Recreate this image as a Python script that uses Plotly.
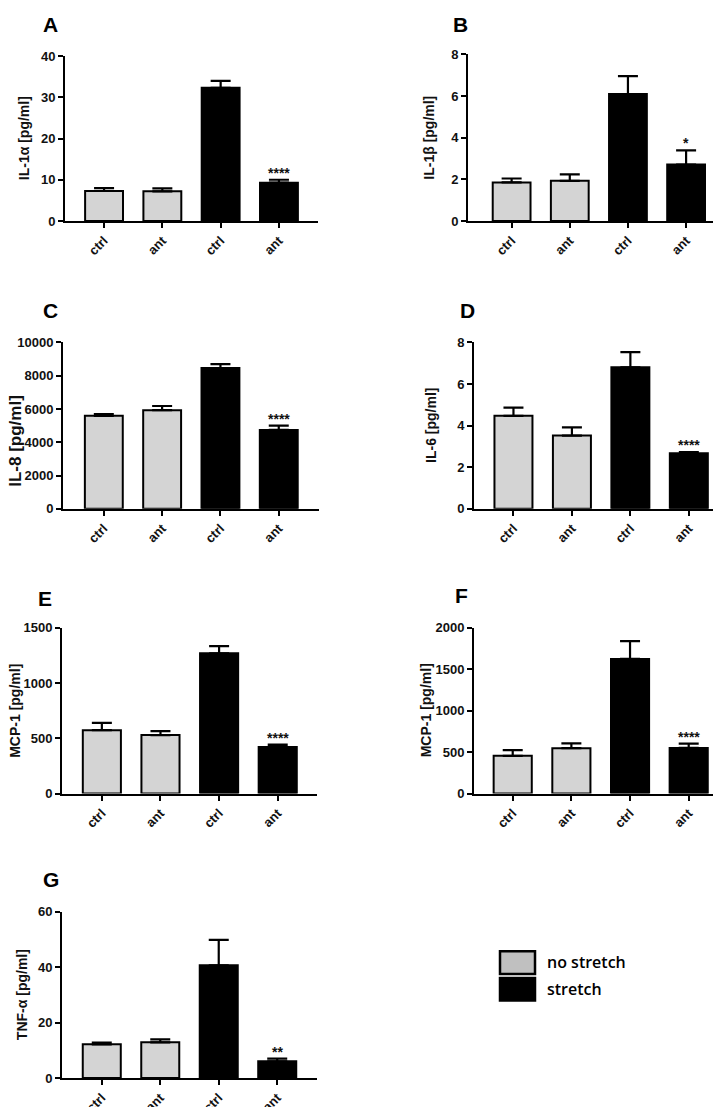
import plotly.graph_objects as go

W, H = 721, 1107

# ---------------- data ----------------
x_pos = [0, 1, 2, 3]
tick_labels = ["ctrl", "ant", "ctrl", "ant"]
bar_colors = ["#d4d4d4", "#d4d4d4", "#000000", "#000000"]

panel_letters = ["A", "B", "C", "D", "E", "F", "G"]
y_titles = ["IL-1α [pg/ml]", "IL-1β [pg/ml]", "IL-8 [pg/ml]", "IL-6 [pg/ml]",
            "MCP-1 [pg/ml]", "MCP-1 [pg/ml]", "TNF-α [pg/ml]"]

il1a_mean = [7.3, 7.2, 32.3, 9.3]
il1a_sem = [0.7, 0.7, 1.7, 0.7]
il1b_mean = [1.85, 1.93, 6.1, 2.71]
il1b_sem = [0.19, 0.31, 0.86, 0.68]
il8_mean = [5590, 5930, 8460, 4740]
il8_sem = [100, 250, 240, 260]
il6_mean = [4.47, 3.52, 6.81, 2.67]
il6_sem = [0.40, 0.40, 0.73, 0.06]
mcp1e_mean = [573, 529, 1268, 422]
mcp1e_sem = [66, 35, 66, 21]
mcp1f_mean = [455, 547, 1624, 550]
mcp1f_sem = [68, 59, 214, 52]
tnfa_mean = [12.2, 12.9, 40.7, 6.05]
tnfa_sem = [0.6, 1.1, 9.2, 0.95]

stars = ["****", "*", "****", "****", "****", "****", "**"]

y_max = [40, 8, 10000, 8, 1500, 2000, 60]
y_step = [10, 2, 2000, 2, 500, 500, 20]

means = [il1a_mean, il1b_mean, il8_mean, il6_mean, mcp1e_mean, mcp1f_mean, tnfa_mean]
sems = [il1a_sem, il1b_sem, il8_sem, il6_sem, mcp1e_sem, mcp1f_sem, tnfa_sem]

legend_labels = ["no stretch", "stretch"]
legend_colors = ["#c0c0c0", "#000000"]

# ---------------- layout (pixel geometry) ----------------
# x0, x1, ytop, ybottom in px, x-range
panels = [
    (57, 310, 41.7, 209, (-0.67, 3.67)),
    (460, 713, 40, 209, (-0.75, 3.60)),
    (55, 311, 332.3, 501, (-0.70, 3.69)),
    (466, 720, 332.3, 501, (-0.675, 3.67)),
    (54, 309, 621.7, 790, (-0.68, 3.67)),
    (466, 720, 621.7, 790, (-0.66, 3.67)),
    (54, 309, 910, 1078.7, (-0.68, 3.68)),
]
letter_pos = [(33, 9.5), (443, 9.5), (33, 300), (450, 299.5), (28, 592.5), (445, 589.5), (33, 877.5)]
ytitle_pos = [(16, 125, 14), (421.5, 125, 14), (8, 432, 17), (423, 417, 14),
              (7, 706, 14), (417.5, 706, 14), (13.5, 994, 14)]

FONT = "Liberation Sans, Arial, sans-serif"
TICKFONT = dict(family=FONT, size=13, color="#111", weight="bold")


def px(x):
    return x / W


def py(y):
    return 1 - y / H


fig = go.Figure()
annotations = []
shapes = []

for i in range(7):
    x0, x1, yt, yb, xr = panels[i]
    sx = "" if i == 0 else str(i + 1)
    xa, ya = "x" + sx, "y" + sx
    fig.add_trace(go.Bar(
        x=x_pos, y=means[i], xaxis=xa, yaxis=ya, width=0.65,
        marker=dict(color=bar_colors, line=dict(color="black", width=2)),
        error_y=dict(type="data", array=sems[i], arrayminus=[0] * 4, symmetric=False,
                     color="black", thickness=2.2, width=10),
        showlegend=False, hoverinfo="skip",
    ))
    tv = list(range(0, y_max[i] + 1, y_step[i]))
    fig.update_layout(**{
        "xaxis" + sx: dict(domain=[px(x0), px(x1)], anchor=ya, range=list(xr),
                           tickvals=x_pos, ticktext=tick_labels, tickangle=-45,
                           showline=True, linewidth=2, linecolor="black",
                           ticks="outside", ticklen=5, tickwidth=2, tickcolor="black",
                           showgrid=False, zeroline=False, tickfont=TICKFONT),
        "yaxis" + sx: dict(domain=[py(yb), py(yt)], anchor=xa, range=[0, y_max[i]],
                           tickvals=tv, ticktext=[str(v) for v in tv],
                           showline=True, linewidth=2, linecolor="black",
                           ticks="outside", ticklen=5, tickwidth=2, tickcolor="black",
                           showgrid=False, zeroline=False, tickfont=TICKFONT),
    })
    # significance stars above last bar
    annotations.append(dict(
        x=x_pos[3], y=means[i][3] + sems[i][3], xref=xa, yref=ya,
        text=stars[i], showarrow=False, yanchor="bottom", yshift=-3,
        font=dict(family=FONT, size=14, color="#111", weight="bold")))
    # panel letter
    lx, ly = letter_pos[i]
    annotations.append(dict(
        x=px(lx), y=py(ly), xref="paper", yref="paper", text=panel_letters[i],
        showarrow=False, xanchor="left", yanchor="middle",
        font=dict(family=FONT, size=21, color="black", weight="bold")))
    # y title
    tx, ty, ts = ytitle_pos[i]
    annotations.append(dict(
        x=px(tx), y=py(ty), xref="paper", yref="paper", text=y_titles[i],
        showarrow=False, textangle=-90, xanchor="center", yanchor="middle",
        font=dict(family=FONT, size=ts, color="#111", weight="bold")))

# legend (drawn manually)
leg_boxes = [(492, 950, 527, 973), (492, 977, 527, 1000)]
leg_text_y = [961, 988]
for k in range(2):
    bx0, by0, bx1, by1 = leg_boxes[k]
    shapes.append(dict(type="rect", xref="paper", yref="paper",
                       x0=px(bx0), x1=px(bx1), y0=py(by1), y1=py(by0),
                       fillcolor=legend_colors[k], line=dict(color="black", width=2.5)))
    annotations.append(dict(
        x=px(537), y=py(leg_text_y[k]), xref="paper", yref="paper",
        text=legend_labels[k], showarrow=False, xanchor="left", yanchor="middle",
        font=dict(family="Open Sans, sans-serif", size=16, color="black", weight=600)))

fig.update_layout(
    width=W, height=H, margin=dict(l=0, r=0, t=0, b=0),
    paper_bgcolor="white", plot_bgcolor="white",
    annotations=annotations, shapes=shapes, bargap=0.35,
)

fig.write_html("out.html")
